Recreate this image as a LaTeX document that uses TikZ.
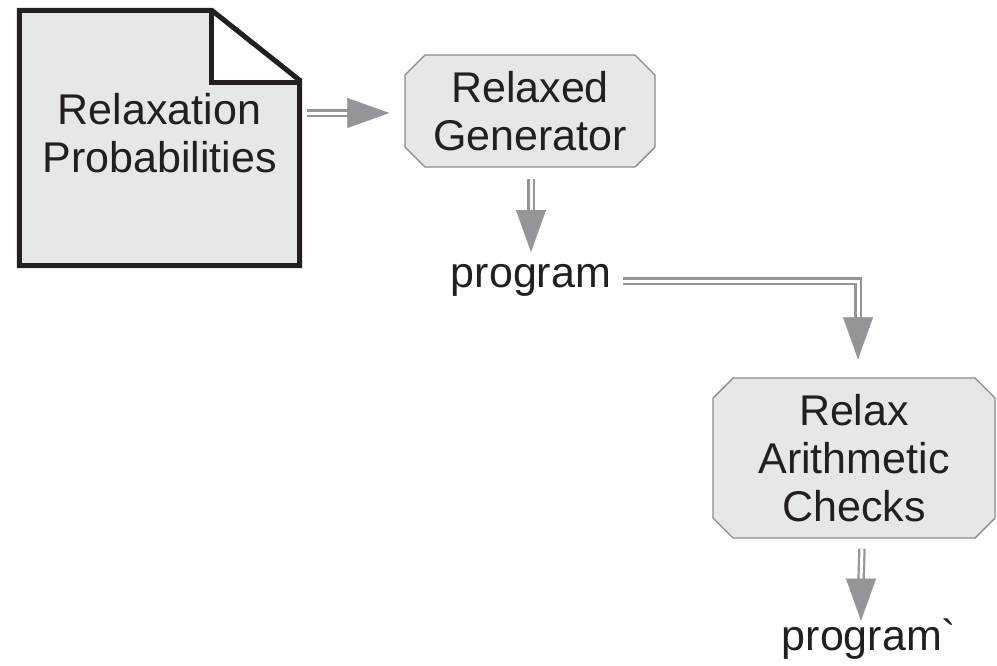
\documentclass[tikz,border=0pt]{standalone}
\usepackage{fontspec}
\newfontfamily\mainf{Liberation Sans}
\usetikzlibrary{calc,shapes.misc,arrows.meta}
\definecolor{boxfill}{HTML}{E6E7E8}
\definecolor{boxline}{HTML}{8A8B8E}
\definecolor{arrgray}{HTML}{939598}
\definecolor{txt}{HTML}{231F20}
\tikzset{
  lbl/.style={font=\mainf\fontsize{43}{48}\selectfont, text=txt, inner sep=0pt, align=center},
  procbox/.style={lbl, chamfered rectangle, chamfered rectangle sep=10pt, draw=boxline, fill=boxfill, line width=1.4pt},
  dblshaft/.style={draw=arrgray, line width=2.2pt, double=white, double distance=3pt, line join=miter},
  headtip/.style={draw=arrgray, line width=0.3pt, -{Triangle[length=42pt,width=30pt,fill=arrgray]}},
}
\begin{document}
\begin{tikzpicture}[x=1pt,y=-1pt]
\useasboundingbox (0,0) rectangle (997,665);
% document shape
\node[minimum width=280pt, minimum height=255pt, inner sep=0pt, fill=boxfill] (doc) at (159.5,138) {};
\fill[white] ($(doc.north east)+(-88,-4)$) rectangle ($(doc.north east)+(4,72)$);
\draw[line width=5pt, line join=miter, draw=txt]
  (doc.south west) -- (doc.north west) -- ($(doc.north east)+(-88,0)$) -- ($(doc.north east)+(0,70)$) -- (doc.south east) -- cycle;
\draw[line width=5pt, line join=miter, draw=txt]
  ($(doc.north east)+(-88,0)$) -- ($(doc.north east)+(-88,72)$) -- ($(doc.north east)+(0,72)$);
\node[lbl, anchor=base] (doclbl) at (159.5,172) {Relaxation\\Probabilities};
% process boxes
\node[procbox, minimum width=250pt, minimum height=112pt] (gen) at (530,111) {Relaxed\\Generator};
\node[procbox, minimum width=282pt, minimum height=160pt] (rel) at (854,458) {Relax\\Arithmetic\\Checks};
% texts
\node[lbl, anchor=base] (prog) at (531,287) {program};
\node[lbl, anchor=base] (prog2) at (869,650) {program`};
% arrow 1
\coordinate (a1s) at ($(gen.west)+(-97,2)$);
\coordinate (a1t) at ($(gen.west)+(-15,2)$);
\coordinate (a1b) at ($(a1t)+(-42,0)$);
\draw[dblshaft] (a1s) -- ($(a1b)+(2,0)$);
\draw[headtip] (a1b) -- (a1t);
% arrow 2
\coordinate (a2s) at ($(gen.south)+(1,11)$);
\coordinate (a2t) at ($(prog.base)+(0,-35)$);
\coordinate (a2b) at ($(a2t)+(0,-42)$);
\draw[dblshaft] (a2s) -- ($(a2b)+(0,2)$);
\draw[headtip] (a2b) -- (a2t);
% arrow 3
\coordinate (a3s) at ($(prog.base east)+(12,-6)$);
\coordinate (a3t) at ($(rel.north)+(4,-18)$);
\coordinate (a3b) at ($(a3t)+(0,-42)$);
\draw[dblshaft] (a3s) -| ($(a3b)+(0,2)$);
\draw[headtip] (a3b) -- (a3t);
% arrow 4
\coordinate (a4s) at ($(rel.south)+(8,10)$);
\coordinate (a4t) at ($(rel.south)+(7,82)$);
\coordinate (a4b) at ($(a4t)+(0,-42)$);
\draw[dblshaft] (a4s) -- ($(a4b)+(0,2)$);
\draw[headtip] (a4b) -- (a4t);
\end{tikzpicture}
\end{document}
